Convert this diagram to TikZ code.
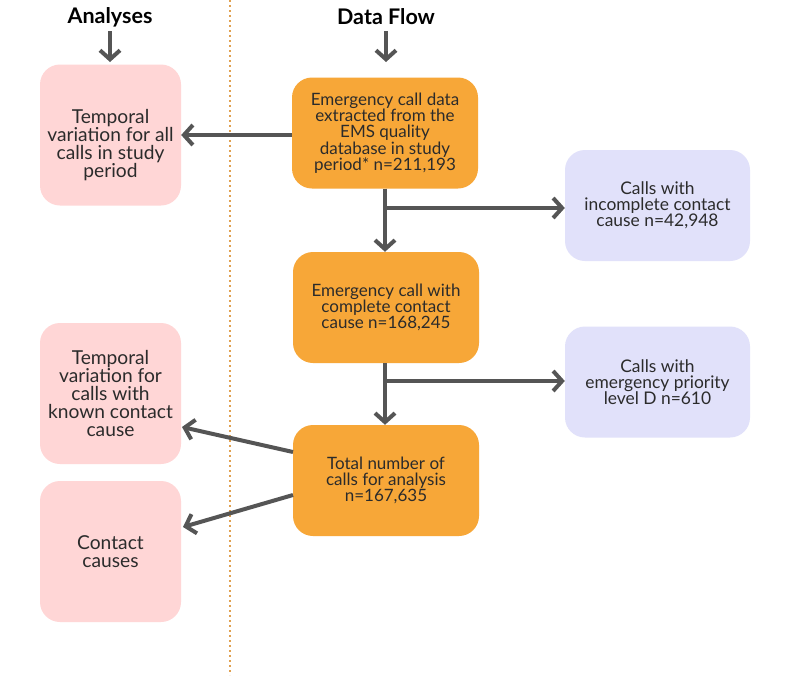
\documentclass[tikz,border=0pt]{standalone}
\usepackage{fontspec}
\setmainfont{Lato}
\usetikzlibrary{arrows.meta}
\definecolor{orng}{HTML}{F7A738}
\definecolor{pinkbox}{HTML}{FFD6D6}
\definecolor{lavbox}{HTML}{E1E1FA}
\definecolor{arrowgrey}{HTML}{555555}
\definecolor{txt}{HTML}{2B2B2B}
\definecolor{dotline}{HTML}{E0A050}
\tikzset{
  box/.style={rounded corners=20pt, inner sep=0pt, align=center, text=txt},
  flowbox/.style={box, fill=orng, minimum width=186pt, minimum height=111pt, font=\fontsize{17}{16.2}\selectfont},
  anabox/.style={box, fill=pinkbox, minimum width=141pt, minimum height=141pt, font=\fontsize{19.2}{18}\selectfont},
  excbox/.style={box, fill=lavbox, minimum width=185pt, minimum height=111pt, font=\fontsize{17.4}{16.2}\selectfont},
  boxtext/.style={inner sep=0pt, align=center, text=txt, font=\fontsize{19.2}{18}\selectfont},
  heading/.style={font=\fontsize{21.5}{22}\selectfont\bfseries, text=black, inner sep=0pt},
  conn/.style={draw=arrowgrey, line width=4pt, -{Straight Barb[length=9pt,width=20pt,line width=4pt]}}
}
\begin{document}
\begin{tikzpicture}[x=1pt,y=-1pt]
\useasboundingbox (0,0) rectangle (800,675);
\fill[white] (0,0) rectangle (800,675);
\draw[dotline, line width=2.4pt, dash pattern=on 2pt off 3pt] (230,0) -- (230,675);

\node[heading] (hA) at (110,17) {Analyses};
\node[heading] (hD) at (386,17) {Data Flow};

\node[flowbox] (f1) at (385,133) {Emergency call data\\extracted from the\\EMS quality\\database in study\\period* n=211,193};
\node[flowbox] (f2) at (386,307.5) {Emergency call with\\complete contact\\cause n=168,245};
\node[flowbox] (f3) at (386,480.5) {Total number of\\calls for analysis\\n=167,635};

\node[excbox] (e1) at (657.5,205.5) {Calls with\\incomplete contact\\cause n=42,948};
\node[excbox] (e2) at (657.5,382) {Calls with\\emergency priority\\level D n=610};

\node[anabox] (a1) at (110.5,135) {};
\node[boxtext] (a1t) at (110.5,145) {Temporal\\variation for all\\calls in study\\period};
\node[anabox] (a2) at (110.5,393.5) {Temporal\\variation for\\calls with\\known contact\\cause};
\node[anabox] (a3) at (110.5,551.5) {Contact\\causes};

\coordinate (hAs) at (110,31);
\coordinate (hDs) at (386,31);
\coordinate (hAe) at (110,62);
\coordinate (hDe) at (386,62);
\draw[conn] (hAs) -- (hAe);
\draw[conn] (hDs) -- (hDe);

\draw[conn] (f1.west |- a1.center) -- (a1.east);

\coordinate (b1) at (385,208);
\coordinate (b2) at (385,381);
\draw[conn] (f1.south -| b1) -- (f2.north -| b1);
\draw[conn] (b1) -- (e1.west |- b1);
\draw[conn] (f2.south -| b2) -- (f3.north -| b2);
\draw[conn] (b2) -- (e2.west |- b2);

\coordinate (s1) at (293,452);
\coordinate (s2) at (293,495);
\coordinate (t1) at (182,427);
\coordinate (t2) at (183,527);
\draw[conn] (s1) -- (t1);
\draw[conn] (s2) -- (t2);
\end{tikzpicture}
\end{document}
